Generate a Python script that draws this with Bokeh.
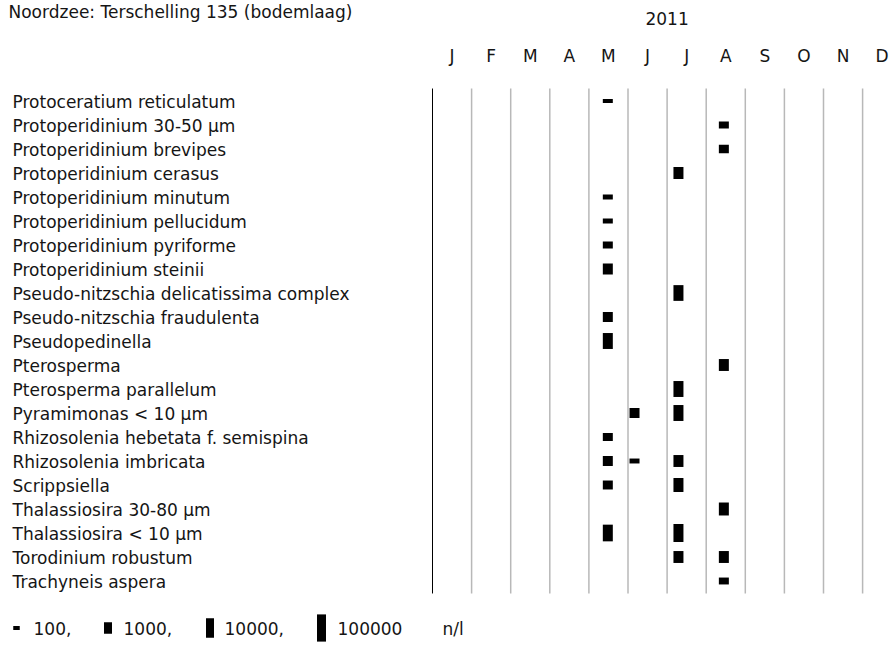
import numpy as np
import pandas as pd
from bokeh.plotting import figure
from bokeh.models import ColumnDataSource, Range1d
from bokeh.core.properties import value
from bokeh.embed import file_html
from bokeh.resources import INLINE

# ---------------- data ----------------
title_text = "Noordzee: Terschelling 135 (bodemlaag)"
year_label = "2011"
month_labels = ["J", "F", "M", "A", "M", "J", "J", "A", "S", "O", "N", "D"]

species = [
    "Protoceratium reticulatum",
    "Protoperidinium 30-50 µm",
    "Protoperidinium brevipes",
    "Protoperidinium cerasus",
    "Protoperidinium minutum",
    "Protoperidinium pellucidum",
    "Protoperidinium pyriforme",
    "Protoperidinium steinii",
    "Pseudo-nitzschia delicatissima complex",
    "Pseudo-nitzschia fraudulenta",
    "Pseudopedinella",
    "Pterosperma",
    "Pterosperma parallelum",
    "Pyramimonas < 10 µm",
    "Rhizosolenia hebetata f. semispina",
    "Rhizosolenia imbricata",
    "Scrippsiella",
    "Thalassiosira 30-80 µm",
    "Thalassiosira < 10 µm",
    "Torodinium robustum",
    "Trachyneis aspera",
]

sample_dates = ["2011-05-16", "2011-06-06", "2011-07-10", "2011-08-15"]

# cells per litre (0 = not found)
counts_may = [110, 0, 0, 0, 140, 140, 250, 840, 0, 620, 3600, 0, 0, 0, 350, 620, 460, 0, 4500, 0, 0]
counts_jun = [0, 0, 0, 0, 0, 0, 0, 0, 0, 0, 0, 0, 0, 620, 0, 140, 0, 0, 0, 0, 0]
counts_jul = [0, 0, 0, 1100, 0, 0, 0, 0, 3400, 0, 0, 0, 3600, 3600, 0, 1100, 2000, 0, 6600, 1100, 0]
counts_aug = [0, 240, 430, 0, 0, 0, 0, 0, 0, 0, 0, 1100, 0, 0, 0, 0, 0, 1500, 0, 1100, 250]

legend_values = [100, 1000, 10000, 100000]
legend_texts = ["100,", "1000,", "10000,", "100000"]
unit_text = "n/l"

# ---------------- layout helpers ----------------
W, H = 894, 644
PAGE = 0
X0, XS = 432.0, 39.1      # page px of Jan 1, px per month
Y0, YS = 100.5, 24.0      # page px of first row, px per row


def xd(px):
    return (px - X0) / XS


def yd(py):
    return (py - Y0) / YS


def bar_h(v):
    return 15.5 + 7.8 * (np.log10(v) - 3.5)


FONT = value("DejaVu Sans")
FS = "17px"
TXT = "#151515"

p = figure(width=W, height=H, output_backend="svg", toolbar_location=None,
           x_range=Range1d(xd(PAGE), xd(PAGE + W)),
           y_range=Range1d(yd(PAGE + H), yd(PAGE)),
           x_axis_location=None, y_axis_location=None,
           min_border=0, min_border_left=0, min_border_right=0,
           min_border_top=0, min_border_bottom=0)
p.outline_line_color = None
p.grid.visible = False
p.background_fill_color = "white"
p.border_fill_color = "white"

# month separators
n_rows = len(species)
ytop, ybot = -0.52, n_rows - 1 + 0.52
p.segment(x0=[0], y0=[ytop], x1=[0], y1=[ybot], line_color="black", line_width=1)
p.segment(x0=list(range(1, 12)), y0=[ytop] * 11, x1=list(range(1, 12)), y1=[ybot] * 11,
          line_color="#b8b8b8", line_width=1.5)

# bars
xs, ys, hs = [], [], []
for d, vals in zip(sample_dates, [counts_may, counts_jun, counts_jul, counts_aug]):
    t = pd.Timestamp(d)
    mx = (t.month - 1) + (t.day - 1) / t.days_in_month
    for i, v in enumerate(vals):
        if v > 0:
            xs.append(mx)
            ys.append(i)
            hs.append(bar_h(v))
src = ColumnDataSource(dict(x=xs, y=ys, h=hs))
p.rect(x="x", y="y", width=10, height="h", width_units="screen", height_units="screen",
       source=src, fill_color="black", line_color=None)

# species labels
p.text(x=[xd(12)] * n_rows, y=[r + 0.05 for r in range(n_rows)], text=species,
       text_font=FONT, text_font_size=FS, text_baseline="middle", text_align="left",
       text_color=TXT)

# month labels
p.text(x=[i + 0.5 for i in range(12)], y=[yd(55)] * 12, text=month_labels,
       text_font=FONT, text_font_size=FS, text_baseline="middle", text_align="center",
       text_color=TXT)
p.text(x=[6.0], y=[yd(18)], text=[year_label],
       text_font=FONT, text_font_size=FS, text_baseline="middle", text_align="center",
       text_color=TXT)

# title
p.text(x=[xd(8)], y=[yd(11)], text=[title_text],
       text_font=FONT, text_font_size=FS, text_baseline="middle", text_align="left",
       text_color=TXT)

# legend
leg_bar_px = [16, 107.5, 209.5, 321]
leg_bar_w = [6.5, 8, 8, 9]
leg_txt_px = [33, 123, 224, 337]
p.rect(x=[xd(v) for v in leg_bar_px], y=[yd(627.5)] * 4, width=leg_bar_w,
       height=[bar_h(v) for v in legend_values], width_units="screen", height_units="screen",
       fill_color="black", line_color=None)
p.text(x=[xd(v) for v in leg_txt_px] + [xd(442)], y=[yd(628)] * 5,
       text=legend_texts + [unit_text],
       text_font=FONT, text_font_size=FS, text_baseline="middle", text_align="left",
       text_color=TXT)

open("out.html", "w").write(file_html(p, INLINE))
